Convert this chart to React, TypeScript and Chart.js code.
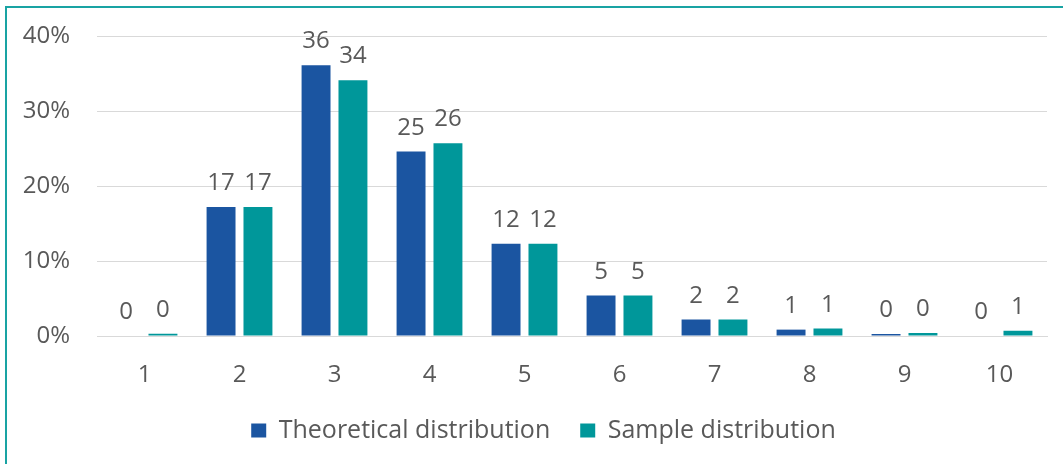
import React, { useEffect, useRef } from "react";
import { Chart, registerables } from "chart.js";

Chart.register(...registerables);

const categories = ["1", "2", "3", "4", "5", "6", "7", "8", "9", "10"];
const theoretical = [0, 17.2, 36.1, 24.6, 12.3, 5.4, 2.2, 0.85, 0.27, 0];
const sample = [0.3, 17.2, 34.1, 25.7, 12.3, 5.4, 2.2, 1.0, 0.4, 0.7];
const seriesNames = ["Theoretical distribution", "Sample distribution"];
const colors = ["#1B55A1", "#00979A"];

const FONT = "'Open Sans', 'Noto Sans', sans-serif";
const TEXT = "#595959";
const SIZE = 24;

const valueLabels = {
  id: "valueLabels",
  afterDatasetsDraw(chart: any) {
    const ctx = chart.ctx;
    ctx.save();
    ctx.font = `${SIZE}px ${FONT}`;
    ctx.fillStyle = TEXT;
    ctx.textAlign = "center";
    ctx.textBaseline = "alphabetic";
    chart.data.datasets.forEach((ds: any, i: number) => {
      const meta = chart.getDatasetMeta(i);
      meta.data.forEach((el: any, j: number) => {
        const v = ds.data[j] as number;
        ctx.fillText(String(Math.round(v)), el.x, el.y - 17);
      });
    });
    ctx.restore();
  },
};

const shiftLegend = {
  id: "shiftLegend",
  afterLayout(chart: any) {
    if (chart.legend) {
      chart.legend.left += 20;
      chart.legend.right += 20;
    }
  },
};

export default function App() {
  const ref = useRef<HTMLCanvasElement>(null);
  useEffect(() => {
    if (!ref.current) return;
    const chart = new Chart(ref.current, {
      type: "bar",
      data: {
        labels: categories,
        datasets: [
          { label: seriesNames[0], data: theoretical, backgroundColor: colors[0], categoryPercentage: 0.777, barPercentage: 0.784 },
          { label: seriesNames[1], data: sample, backgroundColor: colors[1], categoryPercentage: 0.777, barPercentage: 0.784 },
        ],
      },
      options: {
        responsive: false,
        animation: false,
        layout: { padding: { top: 36, right: 16, bottom: 11, left: 0 } },
        plugins: {
          tooltip: { enabled: false },
          legend: {
            position: "bottom",
            labels: {
              font: { family: FONT, size: 25 },
              color: TEXT,
              boxWidth: 15,
              boxHeight: 14,
              padding: 30,
            },
          },
        },
        scales: {
          x: {
            grid: { display: false, drawTicks: false },
            border: { display: true, color: "#D9D9D9", width: 1 },
            ticks: { font: { family: FONT, size: SIZE }, color: TEXT, padding: 25 },
            afterFit(scale: any) {
              scale.height = 52;
            },
          },
          y: {
            min: 0,
            max: 40,
            grid: { color: "#D9D9D9", drawTicks: false },
            border: { display: false },
            ticks: {
              stepSize: 10,
              font: { family: FONT, size: SIZE },
              color: TEXT,
              padding: 27,
              callback: (v: any) => v + "%",
            },
            afterFit(scale: any) {
              scale.width = 97;
              scale.paddingTop = 0;
              scale.paddingBottom = 0;
            },
          },
        },
      },
      plugins: [valueLabels, shiftLegend],
    });
    return () => chart.destroy();
  }, []);

  return (
    <div style={{ position: "fixed", left: 0, top: 0, width: 1063, height: 464, background: "#fff", overflow: "hidden" }}>
      <div style={{ position: "absolute", left: 5, top: 6, width: 1100, height: 500, borderLeft: "2px solid #19A3A3", borderTop: "2px solid #19A3A3" }} />
      <canvas ref={ref} width={1063} height={464} style={{ position: "absolute", left: 0, top: 0 }} />
    </div>
  );
}
